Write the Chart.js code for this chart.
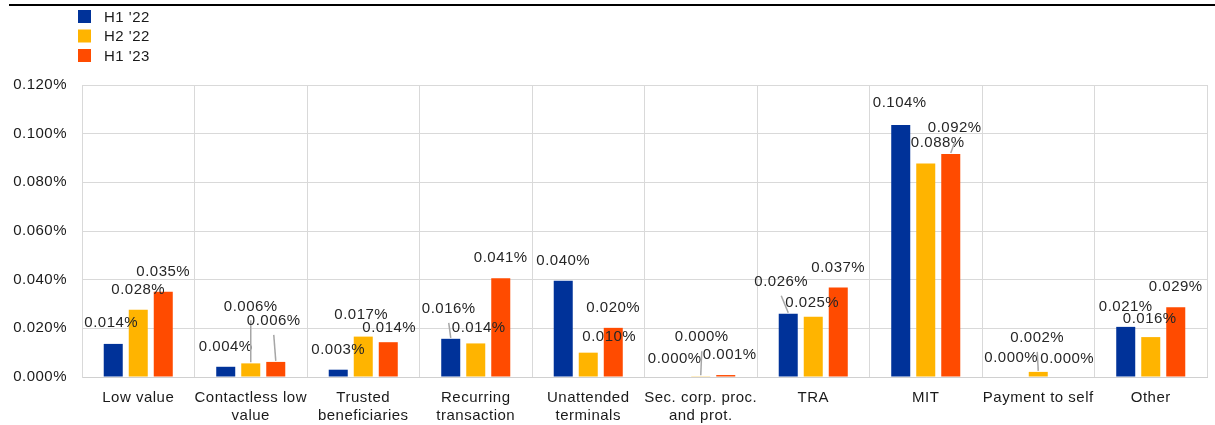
<!DOCTYPE html>
<html>
<head>
<meta charset="utf-8">
<script src="https://cdn.jsdelivr.net/npm/chart.js@4/dist/chart.umd.min.js"></script>
<style>
  html, body { margin: 0; padding: 0; background: #fff; }
  #wrap { width: 1215px; height: 425px; position: relative; }
</style>
</head>
<body>
<div id="wrap"><canvas id="c" width="1215" height="425"></canvas></div>
<script>
// Fraud rates by exemption type, per half-year (values in percent)
const categories = [
  'Low value',
  ['Contactless low', 'value'],
  ['Trusted', 'beneficiaries'],
  ['Recurring', 'transaction'],
  ['Unattended', 'terminals'],
  ['Sec. corp. proc.', 'and prot.'],
  'TRA',
  'MIT',
  'Payment to self',
  'Other'
];
const seriesNames = ["H1 '22", "H2 '22", "H1 '23"];
const h1_22 = [0.0136, 0.0042, 0.0030, 0.0157, 0.0396, 0.0000, 0.0260, 0.1036, 0.0000, 0.0206];
const h2_22 = [0.0276, 0.0056, 0.0166, 0.0138, 0.0100, 0.0003, 0.0248, 0.0877, 0.0021, 0.0164];
const h1_23 = [0.0350, 0.0062, 0.0143, 0.0406, 0.0202, 0.0008, 0.0368, 0.0916, 0.0000, 0.0287];
const yTicks = [0, 0.02, 0.04, 0.06, 0.08, 0.10, 0.12];

const seriesColors = ['#003299', '#FFB400', '#FF4B00'];
const FONT = '"Liberation Sans", Arial, sans-serif';

// Label placement relative to the top of each bar: [dx, dy, leader line]
const DEFAULT_SHIFT = [0, -20, false];
const labelShift = {
  '0-0': [-2, -21, false],
  '0-3': [-2, -30, true],
  '0-5': [-1, -18, false],
  '0-6': [-7, -32, true],
  '0-7': [-1, -22, false],
  '0-8': [-2, -19, false],
  '1-1': [0, -57, true],
  '1-2': [-2, -22, false],
  '1-3': [3, -16, false],
  '1-4': [21, -16, false],
  '1-5': [1, -39, true],
  '1-6': [-1, -14, false],
  '1-7': [12, -21, false],
  '1-8': [-1, -34, true],
  '1-9': [-1, -18, false],
  '2-1': [-2, -41, true],
  '2-2': [1, -14, false],
  '2-5': [4, -20, false],
  '2-7': [4, -26, true],
  '2-8': [4, -18, false]
};

const fmtPct = v => Number(v).toFixed(3) + '%';

const textSpacing = {
  id: 'textSpacing',
  beforeDraw(chart) { chart.ctx.letterSpacing = '0.5px'; }
};

const frameAndLegend = {
  id: 'frameAndLegend',
  afterDraw(chart) {
    const ctx = chart.ctx;
    ctx.save();
    // heading rule
    ctx.fillStyle = '#000';
    ctx.fillRect(9, 4, 1206, 2);
    // stacked legend
    ctx.font = '15px ' + FONT;
    ctx.textBaseline = 'middle';
    ctx.textAlign = 'left';
    chart.data.datasets.forEach((ds, i) => {
      const cy = 16.5 + i * 19.5;
      ctx.fillStyle = ds.backgroundColor;
      ctx.fillRect(78, cy - 6.5, 13, 13);
      ctx.fillStyle = '#1a1a1a';
      ctx.fillText(ds.label, 104, cy + 1);
    });
    ctx.restore();
  }
};

const valueLabels = {
  id: 'valueLabels',
  afterDatasetsDraw(chart) {
    const ctx = chart.ctx;
    ctx.save();
    ctx.font = '15px ' + FONT;
    ctx.textAlign = 'center';
    ctx.textBaseline = 'middle';
    chart.data.datasets.forEach((ds, i) => {
      const meta = chart.getDatasetMeta(i);
      meta.data.forEach((bar, j) => {
        const s = labelShift[i + '-' + j] || DEFAULT_SHIFT;
        const lx = bar.x + s[0];
        const ly = bar.y + s[1];
        if (s[2]) {
          ctx.strokeStyle = '#a6a6a6';
          ctx.lineWidth = 1.5;
          ctx.beginPath();
          ctx.moveTo(lx, ly + 14);
          ctx.lineTo(bar.x, bar.y - 1);
          ctx.stroke();
        }
        ctx.fillStyle = '#262626';
        ctx.fillText(fmtPct(ds.data[j]), lx, ly);
      });
    });
    ctx.restore();
  }
};

const seriesData = [h1_22, h2_22, h1_23];

new Chart(document.getElementById('c'), {
  type: 'bar',
  data: {
    labels: categories,
    datasets: seriesNames.map((name, i) => ({
      label: name,
      data: seriesData[i],
      backgroundColor: seriesColors[i],
      borderWidth: 0,
      categoryPercentage: 0.667,
      barPercentage: 0.76
    }))
  },
  options: {
    responsive: false,
    animation: false,
    devicePixelRatio: 1,
    layout: { padding: { top: 85, right: 8, left: 0, bottom: 0 } },
    plugins: {
      legend: { display: false },
      tooltip: { enabled: false },
      title: { display: false }
    },
    scales: {
      x: {
        grid: { color: '#d9d9d9', lineWidth: 1, offset: true, drawTicks: false },
        border: { color: '#d0d0d0' },
        ticks: {
          color: '#1a1a1a',
          font: { family: FONT, size: 15 },
          padding: 12,
          maxRotation: 0,
          autoSkip: false
        },
        afterFit(scale) { scale.height = 48; }
      },
      y: {
        min: 0,
        max: 0.12,
        afterBuildTicks(scale) { scale.ticks = yTicks.map(v => ({ value: v })); },
        grid: { color: '#d9d9d9', lineWidth: 1, drawTicks: false },
        border: { color: '#d9d9d9' },
        ticks: {
          color: '#1a1a1a',
          font: { family: FONT, size: 15 },
          padding: 15,
          callback: v => fmtPct(v)
        },
        afterFit(scale) { scale.width = 82; }
      }
    }
  },
  plugins: [textSpacing, valueLabels, frameAndLegend]
});
</script>
</body>
</html>
